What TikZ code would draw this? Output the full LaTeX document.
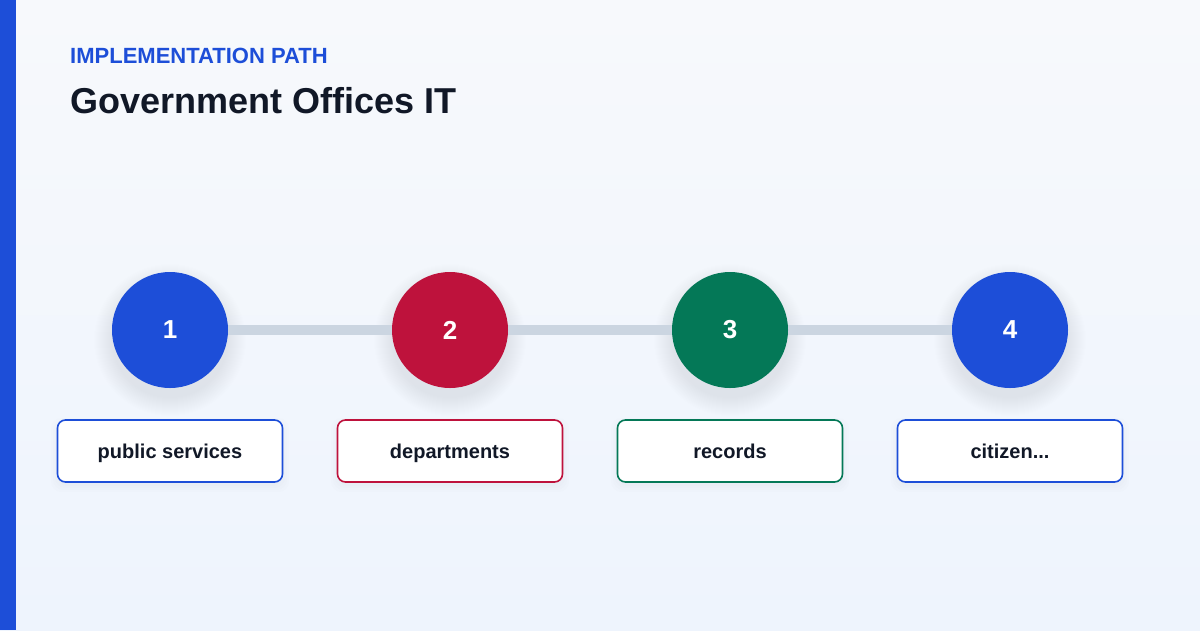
\documentclass[tikz,border=0pt]{standalone}
\usepackage{fontspec}
\setmainfont{Liberation Sans}
\definecolor{bgA}{HTML}{F7F9FC}
\definecolor{bgB}{HTML}{EEF4FD}
\definecolor{cblue}{HTML}{1D4ED8}
\definecolor{cred}{HTML}{BE123C}
\definecolor{cgreen}{HTML}{047857}
\definecolor{ink}{HTML}{111827}
\definecolor{track}{HTML}{CBD5E1}
\tikzset{
  stepcircle/.style={circle, minimum size=116pt, inner sep=0pt, fill=#1, text=white, font=\bfseries\fontsize{26}{26}\selectfont},
  labelbox/.style={rounded corners=8pt, minimum width=225pt, minimum height=62pt, inner sep=0pt, text height=16pt, text depth=2pt, draw=#1, line width=1.6pt, fill=white, text=ink, font=\bfseries\fontsize{20}{20}\selectfont},
}
\begin{document}
\begin{tikzpicture}[x=1pt,y=-1pt]
\useasboundingbox (0,0) rectangle (1200,630);
\shade[left color=bgA, right color=bgB, shading angle=0] (0,0) rectangle (1200,630);
\shade[top color=bgA, bottom color=bgB, opacity=0.5] (0,0) rectangle (1200,630);
\fill[cblue] (0,0) rectangle (16,630);
\node[anchor=base west, text=cblue, font=\bfseries\fontsize{22}{22}\selectfont, inner sep=0pt] (kicker) at (70,63) {IMPLEMENTATION PATH};
\node[anchor=base west, text=ink, font=\bfseries\fontsize{36}{36}\selectfont, inner sep=0pt] (title) at (70,113) {Government Offices IT};
% soft shadows
\foreach \x in {170,450,730,1010}{
  \foreach \r in {58,59,...,76}{
    \fill[black, opacity=0.0045] (\x,340) circle (\r pt);
  }
}
\coordinate (c1) at (170,330);
\coordinate (c4) at (1010,330);
\draw[track, line width=10pt] (c1) -- (c4);
\node[stepcircle=cblue] (s1) at (170,330) {1};
\node[stepcircle=cred] (s2) at (450,330) {2};
\node[stepcircle=cgreen] (s3) at (730,330) {3};
\node[stepcircle=cblue] (s4) at (1010,330) {4};
\foreach \x in {170,450,730,1010}{
  \foreach \d in {0,2,4,6}{
    \fill[black, opacity=0.008, rounded corners=10pt] (\x-113-\d,424-\d) rectangle (\x+113+\d,486+\d);
  }
}
\node[labelbox=cblue] (b1) at (170,451) {public services};
\node[labelbox=cred] (b2) at (450,451) {departments};
\node[labelbox=cgreen] (b3) at (730,451) {records};
\node[labelbox=cblue] (b4) at (1010,451) {citizen...};
\end{tikzpicture}
\end{document}
